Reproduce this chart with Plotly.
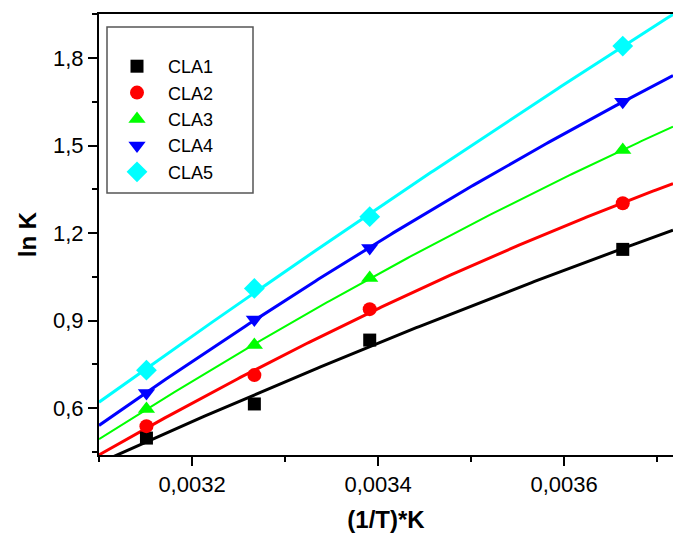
import numpy as np
import plotly.graph_objects as go

# Data
inv_T = [0.003151, 0.003267, 0.003391, 0.003663]
series_names = ["CLA1", "CLA2", "CLA3", "CLA4", "CLA5"]
cla1 = [0.497, 0.614, 0.833, 1.144]
cla2 = [0.538, 0.713, 0.939, 1.302]
cla3 = [0.597, 0.816, 1.046, 1.485]
cla4 = [0.652, 0.904, 1.149, 1.650]
cla5 = [0.730, 1.010, 1.256, 1.841]

colors = ["#000000", "#ff0000", "#00ff00", "#0000ff", "#00ffff"]
symbols = ["square", "circle", "triangle-up", "triangle-down", "diamond"]
msizes = [13, 14, 15, 15, 16]
lwidths = [3, 3, 2, 3, 3]

x_range = [0.0031, 0.003717]
y_range = [0.439, 1.951]

fig = go.Figure()
xs = np.linspace(x_range[0], x_range[1], 200)
for i, ys in enumerate([cla1, cla2, cla3, cla4, cla5]):
    coef = np.polyfit(inv_T, ys, 2)
    fig.add_trace(go.Scatter(x=xs, y=np.polyval(coef, xs), mode="lines",
                             line=dict(color=colors[i], width=lwidths[i]),
                             showlegend=False, hoverinfo="skip"))
for i, ys in enumerate([cla1, cla2, cla3, cla4, cla5]):
    fig.add_trace(go.Scatter(x=inv_T, y=ys, mode="markers", name=series_names[i],
                             marker=dict(color=colors[i], symbol=symbols[i], size=msizes[i],
                                         line=dict(width=0))))

W, H = 673, 540
L, R, T, B = 99, 673, 14, 455
px = lambda sx: (sx - L) / (R - L)
py = lambda sy: (B - sy) / (B - T)
fig.update_layout(
    width=W, height=H,
    margin=dict(l=L, r=W - R, t=T, b=H - B, autoexpand=False),
    paper_bgcolor="white", plot_bgcolor="white",
    separators=", ",
    font=dict(family="Liberation Sans, Arial, sans-serif", color="black", size=22),
    showlegend=True,
    legend=dict(x=px(106), y=py(48), xanchor="left", yanchor="top",
                bgcolor="rgba(0,0,0,0)", borderwidth=0, itemwidth=52,
                font=dict(size=18), tracegroupgap=0),
    shapes=[dict(type="rect", xref="paper", yref="paper",
                 x0=px(107), x1=px(253), y0=py(193), y1=py(27),
                 line=dict(color="#555555", width=1.5))],
)
fig.update_xaxes(range=x_range, showgrid=False, zeroline=False, automargin=False,
                 showline=True, linecolor="black", linewidth=2, mirror=True,
                 ticks="outside", ticklen=9, tickwidth=1.5, tickcolor="black",
                 tick0=0.0032, dtick=0.0002, tickformat=".4f",
                 minor=dict(dtick=0.0001, tick0=0.0031, ticks="outside", ticklen=5,
                            tickwidth=1.5, tickcolor="black"),
                 title=dict(text="<b>(1/T)*K</b>", font=dict(size=24), standoff=15))
fig.update_yaxes(range=y_range, showgrid=False, zeroline=False, automargin=False,
                 showline=True, linecolor="black", linewidth=2,
                 ticks="outside", ticklen=9, tickwidth=1.5, tickcolor="black",
                 tick0=0.6, dtick=0.3, tickformat=".1f",
                 minor=dict(dtick=0.15, tick0=0.45, ticks="outside", ticklen=5,
                            tickwidth=1.5, tickcolor="black"),
                 title=dict(text="<b>ln K</b>", font=dict(size=24), standoff=10))

fig.write_html(
    "out.html", config={"displayModeBar": False},
    post_script=(
        "document.documentElement.style.overflow='hidden';"
        "document.body.style.margin='0px';document.body.style.overflow='hidden';"
        "var gd=document.getElementById('{plot_id}');"
        "Plotly.relayout(gd,{width:%d,height:%d,'margin.r':%d});" % (W, H, W - R)
    ),
)
